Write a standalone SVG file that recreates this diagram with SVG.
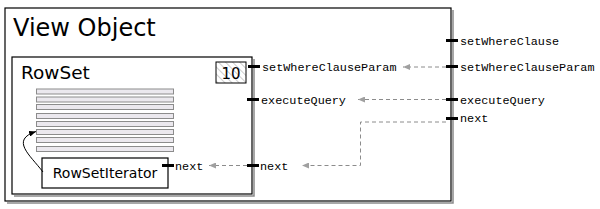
<svg xmlns="http://www.w3.org/2000/svg" width="600" height="209" viewBox="0 0 600 209">
<defs>
<style>
.box{fill:#fff;stroke:#000;stroke-width:1.2}
.shadow{fill:none;stroke:#8a8a8a;stroke-width:1.5}
.row{fill:#ebe8ee;stroke:#8c8c8c;stroke-width:1}
.tick{stroke:#000;stroke-width:3}
.dash{fill:none;stroke:#8c8c8c;stroke-width:1;stroke-dasharray:4 3}
.mono{font-family:"Liberation Mono","DejaVu Sans Mono",monospace;font-size:11.8px;fill:#000}
.sans{font-family:"DejaVu Sans",Verdana,sans-serif;fill:#000}
</style>
<marker id="ga" markerWidth="8" markerHeight="6" refX="7" refY="3" orient="auto" markerUnits="userSpaceOnUse">
<path d="M0,0 L7,3 L0,6 z" fill="#a0a0a0"/>
</marker>
<marker id="ba" markerWidth="8" markerHeight="6" refX="7" refY="3" orient="auto" markerUnits="userSpaceOnUse">
<path d="M0,0 L7,3 L0,6 z" fill="#000"/>
</marker>
<pattern id="hatch" width="5" height="5" patternUnits="userSpaceOnUse" patternTransform="rotate(-45)">
<rect width="5" height="5" fill="#fff"/>
<line x1="0" y1="0" x2="0" y2="5" stroke="#c8c8c8" stroke-width="1.8"/>
</pattern>
</defs>

<g id="viewObject">
<path class="shadow" d="M453,10 V203 H7"/>
<rect class="box" x="5" y="8" width="446" height="193"/>
<text class="sans" x="13" y="36" font-size="24">View Object</text>
</g>

<g id="rowSet">
<path class="shadow" d="M254,59 V196 H14"/>
<rect class="box" x="12" y="57" width="240" height="137"/>
<text class="sans" x="21" y="79" font-size="18.5">RowSet</text>
</g>

<g id="count">
<rect x="216" y="62" width="30" height="21" fill="url(#hatch)" stroke="#000" stroke-width="1"/>
<text class="sans" x="231" y="78.5" font-size="15" text-anchor="middle">10</text>
</g>

<g id="rows">
<rect class="row" x="36.5" y="89" width="137" height="5"/>
<rect class="row" x="36.5" y="97" width="137" height="5"/>
<rect class="row" x="36.5" y="104.5" width="137" height="5"/>
<rect class="row" x="36.5" y="113.5" width="137" height="5"/>
<rect class="row" x="36.5" y="121.5" width="137" height="5"/>
<rect class="row" x="36.5" y="129.5" width="137" height="5"/>
<rect class="row" x="36.5" y="137.5" width="137" height="5"/>
<rect class="row" x="36.5" y="146.5" width="137" height="5"/>
</g>

<g id="rowSetIterator">
<rect class="box" x="42" y="158" width="126" height="30"/>
<text class="sans" x="105" y="178" font-size="14" text-anchor="middle">RowSetIterator</text>
</g>

<g id="ports">
<line class="tick" x1="446" y1="40.5" x2="458" y2="40.5"/>
<line class="tick" x1="446" y1="66.5" x2="458" y2="66.5"/>
<line class="tick" x1="446" y1="99.5" x2="458" y2="99.5"/>
<line class="tick" x1="446" y1="118.5" x2="458" y2="118.5"/>
<line class="tick" x1="248" y1="66.5" x2="260" y2="66.5"/>
<line class="tick" x1="247" y1="99.5" x2="259" y2="99.5"/>
<line class="tick" x1="247" y1="165.5" x2="259" y2="165.5"/>
<line class="tick" x1="162" y1="165.5" x2="174" y2="165.5"/>
<text class="mono" x="460" y="44.5">setWhereClause</text>
<text class="mono" x="460" y="70.5">setWhereClauseParam</text>
<text class="mono" x="460" y="103.5">executeQuery</text>
<text class="mono" x="460" y="122">next</text>
<text class="mono" x="262" y="70.5">setWhereClauseParam</text>
<text class="mono" x="261" y="103.5">executeQuery</text>
<text class="mono" x="260" y="169.5">next</text>
<text class="mono" x="175" y="169.5">next</text>
</g>

<g id="connectors">
<line class="dash" x1="446" y1="67" x2="403" y2="67" marker-end="url(#ga)"/>
<line class="dash" x1="446" y1="99.5" x2="358" y2="99.5" marker-end="url(#ga)"/>
<polyline class="dash" points="446,122 360.5,122 360.5,165.5 302,165.5" marker-end="url(#ga)"/>
<line class="dash" x1="247" y1="165.5" x2="209" y2="165.5" marker-end="url(#ga)"/>
<path d="M43,172 C30,155 10,140 36,131.5" fill="none" stroke="#000" stroke-width="1" marker-end="url(#ba)"/>
</g>
</svg>
